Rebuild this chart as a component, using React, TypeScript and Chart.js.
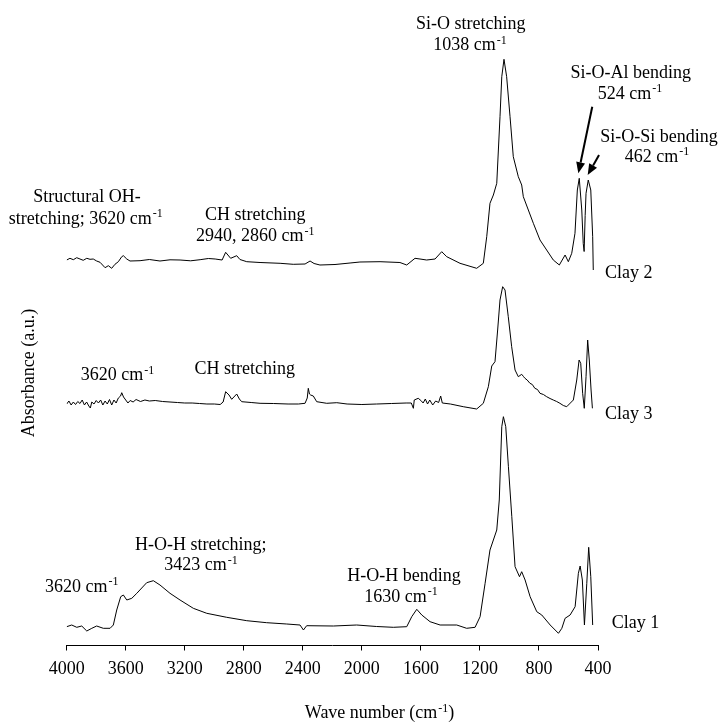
import React, { useEffect, useRef } from "react";
import { Chart, registerables } from "chart.js";

Chart.register(...registerables);

// ---------- data (wavenumber in cm-1, absorbance in arbitrary units, stacked offsets) ----------
const xTickStep = 400;
const xMin = 400;
const xMax = 4000;

const clay2Wavenumber = [4000,3978,3955,3932,3910,3888,3864,3842,3820,3797,3774,3740,3718,3695,3673,3650,3627,3616,3593,3571,3503,3440,3368,3300,3232,3160,3096,3040,2994,2947,2923,2889,2848,2826,2780,2690,2554,2465,2385,2351,2324,2284,2182,2080,2013,1877,1742,1696,1640,1606,1561,1504,1459,1425,1335,1222,1177,1154,1132,1109,1086,1064,1052,1037,1019,996,974,940,917,906,872,838,793,748,703,662,623,601,578,556,540,527,510,500,494,487,481,466,449,436,432];
const clay2Absorbance = [3.855,3.872,3.858,3.878,3.865,3.852,3.872,3.862,3.865,3.845,3.832,3.778,3.798,3.772,3.812,3.838,3.888,3.898,3.865,3.845,3.848,3.86,3.845,3.857,3.855,3.847,3.858,3.87,3.865,3.855,3.932,3.872,3.898,3.86,3.838,3.83,3.822,3.812,3.815,3.845,3.82,3.805,3.81,3.825,3.835,3.838,3.83,3.805,3.872,3.865,3.855,3.865,3.938,3.888,3.822,3.772,3.822,4.088,4.422,4.505,4.622,5.288,5.688,5.862,5.688,5.288,4.888,4.688,4.605,4.488,4.355,4.222,4.055,3.955,3.855,3.805,3.905,3.838,3.922,4.122,4.555,4.672,4.355,4.02,3.94,4.3,4.522,4.655,4.555,4.088,3.755];

const clay3Wavenumber = [4000,3985,3970,3955,3940,3925,3910,3895,3880,3865,3850,3840,3830,3815,3800,3785,3770,3755,3740,3725,3710,3695,3680,3665,3650,3635,3627,3615,3600,3585,3570,3550,3530,3500,3470,3440,3400,3350,3300,3250,3200,3150,3100,3050,3000,2960,2940,2923,2900,2882,2848,2830,2814,2750,2690,2600,2500,2430,2385,2370,2363,2355,2347,2329,2306,2238,2170,2100,2000,1900,1800,1700,1665,1651,1645,1618,1600,1585,1570,1555,1540,1520,1500,1480,1466,1455,1400,1313,1222,1177,1143,1120,1098,1080,1064,1046,1030,1008,985,962,940,917,905,895,880,861,845,828,810,793,770,748,725,703,680,658,635,612,594,567,544,528,517,504,493,481,470,459,447,438];
const clay3Absorbance = [2.415,2.445,2.405,2.435,2.41,2.44,2.42,2.455,2.405,2.435,2.395,2.375,2.435,2.415,2.45,2.425,2.455,2.405,2.445,2.415,2.46,2.405,2.455,2.425,2.475,2.495,2.528,2.485,2.455,2.425,2.45,2.435,2.46,2.44,2.455,2.445,2.45,2.44,2.435,2.43,2.425,2.425,2.42,2.415,2.415,2.41,2.435,2.538,2.505,2.462,2.515,2.465,2.438,2.43,2.422,2.42,2.415,2.415,2.422,2.475,2.572,2.515,2.505,2.495,2.438,2.422,2.428,2.415,2.41,2.415,2.42,2.425,2.425,2.372,2.455,2.472,2.45,2.425,2.465,2.415,2.455,2.405,2.445,2.43,2.495,2.425,2.415,2.388,2.365,2.422,2.588,2.795,2.838,3.155,3.455,3.588,3.555,3.288,2.988,2.755,2.688,2.712,2.69,2.672,2.655,2.622,2.61,2.572,2.56,2.522,2.51,2.488,2.47,2.455,2.44,2.422,2.4,2.388,2.415,2.455,2.655,2.855,2.822,2.522,2.372,2.688,3.055,2.855,2.555,2.372];

const clay1Wavenumber = [4000,3966,3932,3898,3864,3830,3797,3752,3706,3684,3661,3634,3616,3593,3559,3525,3458,3413,3368,3300,3232,3142,3051,2916,2780,2645,2509,2419,2396,2374,2193,2035,1900,1787,1696,1662,1628,1594,1538,1470,1357,1290,1233,1199,1165,1132,1109,1086,1069,1052,1041,1025,1007,984,962,932,917,894,860,815,781,724,668,645,623,589,555,533,521,506,492,476,463,449,436];
const clay1Absorbance = [0.188,0.205,0.182,0.195,0.145,0.172,0.195,0.172,0.172,0.205,0.355,0.488,0.505,0.455,0.472,0.522,0.628,0.648,0.605,0.522,0.455,0.372,0.322,0.282,0.248,0.228,0.215,0.205,0.155,0.198,0.195,0.205,0.19,0.182,0.188,0.288,0.362,0.305,0.238,0.205,0.205,0.172,0.182,0.288,0.622,0.955,1.055,1.155,1.455,2.188,2.288,2.188,1.788,1.288,0.788,0.688,0.738,0.655,0.488,0.338,0.305,0.205,0.122,0.172,0.272,0.305,0.388,0.722,0.795,0.655,0.205,0.622,0.982,0.688,0.205];

// series names, and where they are written (wavenumber, absorbance)
const seriesNames = ["Clay 2", "Clay 3", "Clay 1"];
const seriesLabelWavenumber = [352, 352, 307];
const seriesLabelAbsorbance = [3.725, 2.322, 0.228];

// annotation texts: segments starting with "^" are superscripts
const annotationParts: string[][] = [
  ["Si-O stretching"],
  ["1038 cm", "^-1"],
  ["Si-O-Al bending"],
  ["524 cm", "^-1"],
  ["Si-O-Si bending"],
  ["462 cm", "^-1"],
  ["Structural OH-"],
  ["stretching; 3620 cm", "^-1"],
  ["CH stretching"],
  ["2940, 2860 cm", "^-1"],
  ["3620 cm", "^-1"],
  ["CH stretching"],
  ["H-O-H stretching;"],
  ["3423 cm", "^-1"],
  ["3620 cm", "^-1"],
  ["H-O-H bending"],
  ["1630 cm", "^-1"],
];
const annotationWavenumber = [1262, 1267, 178, 183, -13, 0, 3862, 3871, 2722, 2722, 3656, 2794, 3091, 3090, 3898, 1714, 1735];
const annotationAbsorbance = [6.222, 6.005, 5.728, 5.522, 5.088, 4.888, 4.488, 4.272, 4.305, 4.095, 2.705, 2.772, 1.005, 0.805, 0.588, 0.695, 0.488];

// arrows: tail -> tip (wavenumber, absorbance)
const arrowTailWavenumber = [439, 393];
const arrowTailAbsorbance = [5.388, 4.905];
const arrowTipWavenumber = [533, 470];
const arrowTipAbsorbance = [4.722, 4.705];

const xTitleParts = ["Wave number (cm", "^-1", ")"];
const yTitle = "Absorbance (a.u.)";

const FONT = '"Liberation Serif", "Times New Roman", Times, serif';

function drawRich(ctx: CanvasRenderingContext2D, parts: string[], x: number, y: number, align: string, size: number) {
  const mainFont = `${size}px ${FONT}`;
  const supFont = `${Math.round(size * 0.64)}px ${FONT}`;
  const widths = parts.map((p) => {
    const sup = p.startsWith("^");
    ctx.font = sup ? supFont : mainFont;
    return ctx.measureText(sup ? p.slice(1) : p).width + (sup ? 1 : 0);
  });
  const total = widths.reduce((a, b) => a + b, 0);
  let cx = align === "center" ? x - total / 2 : align === "left" ? x : x - total;
  const base = y + size * 0.3;
  ctx.textAlign = "left";
  ctx.textBaseline = "alphabetic";
  parts.forEach((p, i) => {
    const sup = p.startsWith("^");
    ctx.font = sup ? supFont : mainFont;
    if (sup) ctx.fillText(p.slice(1), cx + 1, base - size * 0.38);
    else ctx.fillText(p, cx, base);
    cx += widths[i];
  });
}

function drawArrow(ctx: CanvasRenderingContext2D, x1: number, y1: number, x2: number, y2: number) {
  const ang = Math.atan2(y2 - y1, x2 - x1);
  const headLen = 11;
  const headW = 4.5;
  const bx = x2 - headLen * Math.cos(ang);
  const by = y2 - headLen * Math.sin(ang);
  ctx.beginPath();
  ctx.moveTo(x1, y1);
  ctx.lineTo(bx, by);
  ctx.lineWidth = 2;
  ctx.strokeStyle = "#000";
  ctx.stroke();
  ctx.beginPath();
  ctx.moveTo(x2, y2);
  ctx.lineTo(bx + headW * Math.sin(ang), by - headW * Math.cos(ang));
  ctx.lineTo(bx - headW * Math.sin(ang), by + headW * Math.cos(ang));
  ctx.closePath();
  ctx.fillStyle = "#000";
  ctx.fill();
}

const annotationPlugin = {
  id: "ftirAnnotations",
  afterDraw(chart: any) {
    const { ctx, chartArea } = chart;
    const xs = chart.scales.x;
    const ys = chart.scales.y;
    ctx.save();
    ctx.fillStyle = "#000";
    annotationParts.forEach((parts, i) => {
      drawRich(ctx, parts, xs.getPixelForValue(annotationWavenumber[i]), ys.getPixelForValue(annotationAbsorbance[i]), "center", 18);
    });
    seriesNames.forEach((name, i) => {
      drawRich(ctx, [name], xs.getPixelForValue(seriesLabelWavenumber[i]), ys.getPixelForValue(seriesLabelAbsorbance[i]), "left", 18);
    });
    arrowTailWavenumber.forEach((_, i) => {
      drawArrow(
        ctx,
        xs.getPixelForValue(arrowTailWavenumber[i]),
        ys.getPixelForValue(arrowTailAbsorbance[i]),
        xs.getPixelForValue(arrowTipWavenumber[i]),
        ys.getPixelForValue(arrowTipAbsorbance[i])
      );
    });
    // axis titles
    ctx.fillStyle = "#000";
    drawRich(ctx, xTitleParts, xs.getPixelForValue(1880), chartArea.bottom + 67.5, "center", 18);
    ctx.save();
    ctx.translate(chartArea.left - 38.4, ys.getPixelForValue(2.725));
    ctx.rotate(-Math.PI / 2);
    drawRich(ctx, [yTitle], 0, 0, "center", 18);
    ctx.restore();
    ctx.restore();
  },
};

function toPoints(w: number[], a: number[]) {
  return w.map((v, i) => ({ x: v, y: a[i] }));
}

export default function App() {
  const canvasRef = useRef<HTMLCanvasElement | null>(null);

  useEffect(() => {
    if (!canvasRef.current) return;
    const lineStyle = {
      borderColor: "#000",
      borderWidth: 1,
      pointRadius: 0,
      fill: false,
      tension: 0,
    };
    const chart = new Chart(canvasRef.current, {
      type: "line",
      data: {
        datasets: [
          { label: seriesNames[0], data: toPoints(clay2Wavenumber, clay2Absorbance), ...lineStyle },
          { label: seriesNames[1], data: toPoints(clay3Wavenumber, clay3Absorbance), ...lineStyle },
          { label: seriesNames[2], data: toPoints(clay1Wavenumber, clay1Absorbance), ...lineStyle },
        ],
      },
      options: {
        animation: false,
        responsive: false,
        maintainAspectRatio: false,
        layout: { padding: { left: 66.7, right: 122, top: 5.5, bottom: 0 } },
        plugins: { legend: { display: false }, tooltip: { enabled: false } },
        scales: {
          x: {
            type: "linear",
            reverse: true,
            min: xMin,
            max: xMax,
            grid: { display: true, drawOnChartArea: false, drawTicks: true, tickLength: 5, color: "#000", lineWidth: 1 },
            border: { display: true, color: "#000", width: 1 },
            ticks: {
              stepSize: xTickStep,
              color: "#000",
              font: { family: FONT, size: 18 },
              padding: 8,
              maxRotation: 0,
              autoSkip: false,
              callback: (v: any) => String(v),
            },
            afterFit: (s: any) => {
              s.height = 79.5;
            },
          },
          y: { display: false, min: 0, max: 6.4 },
        },
      } as any,
      plugins: [annotationPlugin],
    });
    return () => chart.destroy();
  }, []);

  return (
    <div style={{ position: "fixed", left: 0, top: 0, width: 720, height: 725, background: "#fff" }}>
      <canvas ref={canvasRef} width={720} height={725} style={{ display: "block", width: 720, height: 725 }} />
    </div>
  );
}
